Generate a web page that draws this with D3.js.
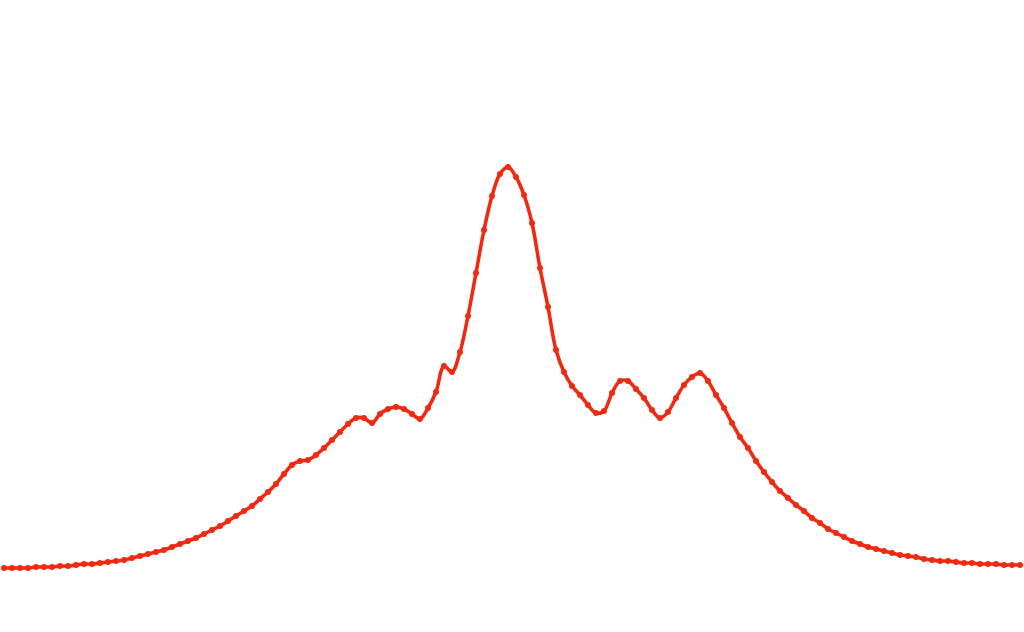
<!DOCTYPE html>
<html>
<head>
<meta charset="utf-8">
<script src="https://cdn.jsdelivr.net/npm/d3@7"></script>
<style>
  html, body { margin: 0; padding: 0; background: #ffffff; }
  svg { display: block; }
</style>
</head>
<body>
<svg id="chart" width="1024" height="632"></svg>
<script>
// Sample index (128 evenly spaced samples across the spectrum)
const sampleCount = 128;
// Intensity values (arbitrary units)
const values = [
  7, 7, 7, 7, 8, 8, 8, 9, 9, 10,
  11, 11, 12, 13, 14, 15, 17, 19, 21, 23,
  25, 28, 31, 34, 37, 41, 45, 49, 54, 59,
  64, 69, 76, 83, 91, 101, 110, 114, 115, 120,
  127, 135, 143, 151, 157, 157, 152, 161, 166, 168,
  166, 161, 156, 167, 183, 209, 203, 223, 259, 302,
  345, 379, 401, 408, 398, 380, 352, 307, 268, 225,
  203, 189, 180, 170, 162, 164, 182, 194, 194, 186,
  177, 165, 157, 163, 177, 190, 198, 202, 194, 180,
  167, 152, 138, 127, 114, 103, 93, 84, 77, 70,
  64, 57, 52, 46, 42, 38, 34, 31, 28, 26,
  24, 22, 20, 19, 18, 16, 15, 14, 14, 13,
  12, 12, 11, 11, 11, 10, 10, 10
];

const svg = d3.select("#chart");
const W = 1024, H = 632;

const x = d3.scaleLinear().domain([0, sampleCount - 1]).range([4, 1020]);
const y = d3.scaleLinear().domain([0, 410]).range([575, 165]);

const color = "#f02a12";

const line = d3.line()
  .x((d, i) => x(i))
  .y(d => y(d))
  .curve(d3.curveCatmullRom);

svg.append("rect").attr("width", W).attr("height", H).attr("fill", "#ffffff");

svg.append("path")
  .datum(values)
  .attr("d", line)
  .attr("fill", "none")
  .attr("stroke", color)
  .attr("stroke-width", 3.6)
  .attr("stroke-linejoin", "round");

svg.append("g")
  .selectAll("circle")
  .data(values)
  .join("circle")
  .attr("cx", (d, i) => x(i))
  .attr("cy", d => y(d))
  .attr("r", 3)
  .attr("fill", color);
</script>
</body>
</html>
